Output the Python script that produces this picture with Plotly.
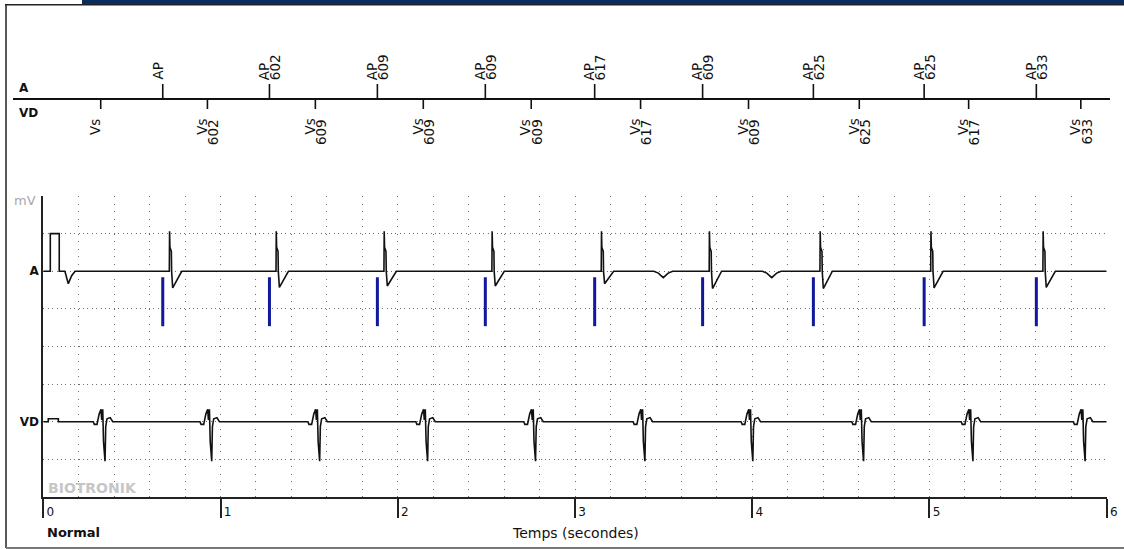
import plotly.graph_objects as go

# ---------------- marker channel ----------------
ap_first_s = 0.674                                   # first atrial pace (s)
ap_intervals_ms = [602, 609, 609, 617, 609, 625, 625, 633]
vs_first_s = 0.324                                   # first ventricular sense (s)
vs_intervals_ms = [602, 609, 609, 609, 617, 609, 625, 617, 633]

# ---------------- electrogram shapes (ms from marker, mV) ----------------
a_paced_ms = [37, 38.5, 40.5, 48.5, 50, 56, 79, 107]
a_paced_mv = [0, 1.06, 0.64, 0.53, 0, -0.46, -0.27, 0]
a_dip_scale = [0.96, 0.93, 0.85, 0.85, 0.72, 1.0, 1.0, 0.96, 0.93]

vd_sensed_ms = [-42, -36, -21, -8.5, 1.7, 5.6, 11.3, 15.8, 24.3, 28.2, 35.5, 53.6, 67.7]
vd_sensed_mv = [0, -0.07, -0.07, 0.21, 0.33, 0.05, 0.33, -0.53, -1.05, -0.13, 0.08, 0.11, 0]

# far-field ventricular deflections seen on the atrial lead
a_farfield_s = [3.498, 4.110]
a_farfield_ms = [-53, -28, 0, 28, 53]
a_farfield_mv = [0, -0.05, -0.17, -0.05, 0]

# start-of-recording artefacts
a_start_ms = [0, 39.5, 39.5, 90, 90, 122, 141, 160, 179]
a_start_mv = [0, 0, 1.0, 1.0, 0, 0, -0.33, -0.12, 0]
vd_start_ms = [0, 28, 28, 85, 85]
vd_start_mv = [0, 0, 0.08, 0.08, 0]

x_ticks = [0, 1, 2, 3, 4, 5, 6]

# ---------------- layout geometry (pixels) ----------------
W, H = 1124, 549
BOTTOM_MARGIN = 52
PLOT_H = H - BOTTOM_MARGIN
MAIN_LEFT, MAIN_RIGHT, MAIN_TOP = 43.3, 1106.7, 196
MARK_LEFT, MARK_RIGHT, MARK_TOP, MARK_BOTTOM = 13, 1110, 50, 148
A_BASE, VD_BASE = 6, 2
PACE_BAR = (-0.16, -1.46)
LINE_PITCH = 11.5          # spacing between the two rotated label lines
FONT = "DejaVu Sans"


def px_x(px):
    return px / W


def px_y(py):
    return (PLOT_H - py) / PLOT_H


def cumulative(first, intervals_ms):
    times = [first]
    for iv in intervals_ms:
        times.append(round(times[-1] + iv / 1000.0, 4))
    return times


def egm(baseline, start_ms, start_mv, events, end_s=6.0):
    xs, ys = [], []
    for ms, mv in zip(start_ms, start_mv):
        xs.append(ms / 1000.0)
        ys.append(baseline + mv)
    for t0, shape_ms, shape_mv in sorted(events, key=lambda e: e[0]):
        for ms, mv in zip(shape_ms, shape_mv):
            xs.append(t0 + ms / 1000.0)
            ys.append(baseline + mv)
    xs.append(end_s)
    ys.append(baseline)
    return xs, ys


ap_times = cumulative(ap_first_s, ap_intervals_ms)
vs_times = cumulative(vs_first_s, vs_intervals_ms)

a_events = [(t, a_paced_ms, [v * s if v < 0 else v for v in a_paced_mv])
            for t, s in zip(ap_times, a_dip_scale)]
a_events += [(t, a_farfield_ms, a_farfield_mv) for t in a_farfield_s]
vd_events = [(t, vd_sensed_ms, vd_sensed_mv) for t in vs_times]

a_x, a_y = egm(A_BASE, a_start_ms, a_start_mv, a_events)
vd_x, vd_y = egm(VD_BASE, vd_start_ms, vd_start_mv, vd_events)

px_per_s = (MAIN_RIGHT - MAIN_LEFT) / (x_ticks[-1] - x_ticks[0])
mark_range = [(MARK_LEFT - MAIN_LEFT) / px_per_s, (MARK_RIGHT - MAIN_LEFT) / px_per_s]


def segments(times, y0, y1):
    xs, ys = [], []
    for t in times:
        xs += [t, t, None]
        ys += [y0, y1, None]
    return xs, ys


fig = go.Figure()

# electrograms
fig.add_trace(go.Scatter(x=a_x, y=a_y, mode="lines", line=dict(color="#111", width=1.6),
                         hoverinfo="skip", xaxis="x", yaxis="y"))
fig.add_trace(go.Scatter(x=vd_x, y=vd_y, mode="lines", line=dict(color="#111", width=1.6),
                         hoverinfo="skip", xaxis="x", yaxis="y"))

# atrial pacing markers on the A channel
bx, by = segments(ap_times, A_BASE + PACE_BAR[0], A_BASE + PACE_BAR[1])
fig.add_trace(go.Scatter(x=bx, y=by, mode="lines", line=dict(color="#10189c", width=3),
                         hoverinfo="skip", xaxis="x", yaxis="y"))

# marker strip ticks
tx, ty = segments(ap_times, 0, 15)
fig.add_trace(go.Scatter(x=tx, y=ty, mode="lines", line=dict(color="#111", width=1.6),
                         hoverinfo="skip", xaxis="x2", yaxis="y2"))
tx, ty = segments(vs_times, 0, -10)
fig.add_trace(go.Scatter(x=tx, y=ty, mode="lines", line=dict(color="#111", width=1.6),
                         hoverinfo="skip", xaxis="x2", yaxis="y2"))

annotations = []
mark_font = dict(family=FONT, size=13.5, color="#111")


def marker_label(t, name, interval, y, yanchor):
    # event name on the first rotated line, interval (ms) on the second
    out = [dict(x=t, y=y, xref="x2", yref="y2", text=name, textangle=-90,
                xanchor="center", yanchor=yanchor, xshift=-LINE_PITCH / 2,
                showarrow=False, font=mark_font)]
    if interval is not None:
        out.append(dict(x=t, y=y, xref="x2", yref="y2", text=str(interval), textangle=-90,
                        xanchor="center", yanchor=yanchor, xshift=LINE_PITCH / 2,
                        showarrow=False, font=mark_font))
    return out


for t, iv in zip(ap_times, [None] + ap_intervals_ms):
    annotations += marker_label(t, "AP", iv, 17, "bottom")
for t, iv in zip(vs_times, [None] + vs_intervals_ms):
    annotations += marker_label(t, "Vs", iv, -18, "top")

# channel names on the marker strip
annotations.append(dict(x=px_x(17), y=px_y(88), xref="paper", yref="paper", text="<b>A</b>",
                        xanchor="left", yanchor="middle", showarrow=False,
                        font=dict(family=FONT, size=12, color="#111")))
annotations.append(dict(x=px_x(17), y=px_y(113), xref="paper", yref="paper", text="<b>VD</b>",
                        xanchor="left", yanchor="middle", showarrow=False,
                        font=dict(family=FONT, size=12, color="#111")))
annotations.append(dict(x=px_x(12), y=px_y(200), xref="paper", yref="paper", text="mV",
                        xanchor="left", yanchor="middle", showarrow=False,
                        font=dict(family=FONT, size=13, color="#a8a8a8")))
annotations.append(dict(x=px_x(46), y=px_y(488), xref="paper", yref="paper", text="<b>BIOTRONIK</b>",
                        xanchor="left", yanchor="middle", showarrow=False,
                        font=dict(family=FONT, size=14, color="#c6c6c6")))
annotations.append(dict(x=px_x(45), y=px_y(532), xref="paper", yref="paper", text="<b>Normal</b>",
                        xanchor="left", yanchor="middle", showarrow=False,
                        font=dict(family=FONT, size=13, color="#111")))
annotations.append(dict(x=px_x((MAIN_LEFT + MAIN_RIGHT) / 2), y=px_y(533), xref="paper", yref="paper",
                        text="Temps (secondes)", xanchor="center", yanchor="middle", showarrow=False,
                        font=dict(family=FONT, size=14, color="#111")))

grid_col = "#6e6e6e"
shapes = [
    dict(type="rect", xref="paper", yref="paper", x0=px_x(82), x1=px_x(W), y0=px_y(0), y1=px_y(4),
         fillcolor="#0b2d5e", line=dict(width=0), layer="above"),
    dict(type="line", xref="paper", yref="paper", x0=px_x(5), x1=px_x(W), y0=px_y(4.8), y1=px_y(4.8),
         line=dict(color="#222", width=1.5)),
    dict(type="line", xref="paper", yref="paper", x0=px_x(6), x1=px_x(6), y0=px_y(4.8), y1=px_y(548),
         line=dict(color="#222", width=1.5)),
    dict(type="line", xref="paper", yref="paper", x0=px_x(6), x1=px_x(W), y0=px_y(548), y1=px_y(548),
         line=dict(color="#777", width=2)),
]

fig.update_layout(
    width=W, height=H, autosize=False,
    margin=dict(l=0, r=0, t=0, b=BOTTOM_MARGIN, pad=0, autoexpand=False),
    paper_bgcolor="white", plot_bgcolor="rgba(0,0,0,0)",
    showlegend=False,
    font=dict(family=FONT, size=12, color="#111"),
    xaxis=dict(
        domain=[px_x(MAIN_LEFT), px_x(MAIN_RIGHT)], range=[x_ticks[0], x_ticks[-1]],
        anchor="y", tickvals=x_ticks, ticktext=[str(v) for v in x_ticks],
        showline=True, linecolor="#222", linewidth=2,
        ticks="outside", ticklen=19, tickwidth=2, tickcolor="#222",
        ticklabelshift=7, ticklabelstandoff=-16, automargin=False,
        tickfont=dict(family=FONT, size=12, color="#111"),
        showgrid=True, gridcolor=grid_col, gridwidth=1, griddash="1px,6.5px",
        minor=dict(dtick=0.2, tick0=0, showgrid=True, gridcolor=grid_col, gridwidth=1,
                   griddash="1px,6.5px", ticks=""),
        zeroline=False, fixedrange=True,
    ),
    yaxis=dict(
        domain=[0, px_y(MAIN_TOP)], range=[0, 8], anchor="x", automargin=False,
        tickvals=[VD_BASE, A_BASE], ticktext=["<b>VD</b>", "<b>A</b>"],
        tickfont=dict(family=FONT, size=12, color="#111"),
        showline=True, linecolor="#222", linewidth=2, ticks="",
        showgrid=True, gridcolor=grid_col, gridwidth=1, griddash="1px,3.4px",
        minor=dict(dtick=1, tick0=0, showgrid=True, gridcolor=grid_col, gridwidth=1,
                   griddash="1px,3.4px", ticks=""),
        zeroline=False, fixedrange=True,
    ),
    xaxis2=dict(
        domain=[px_x(MARK_LEFT), px_x(MARK_RIGHT)], range=mark_range, anchor="y2",
        showline=False, showgrid=False, zeroline=False, showticklabels=False, ticks="",
        fixedrange=True, automargin=False,
    ),
    yaxis2=dict(
        domain=[px_y(MARK_BOTTOM), px_y(MARK_TOP)], range=[-49, 49], anchor="x2",
        showline=False, showgrid=False, showticklabels=False, ticks="", automargin=False,
        zeroline=True, zerolinecolor="#111", zerolinewidth=2, fixedrange=True,
    ),
    annotations=annotations,
    shapes=shapes,
)

fig.write_html("out.html", config={"responsive": False, "displayModeBar": False})
